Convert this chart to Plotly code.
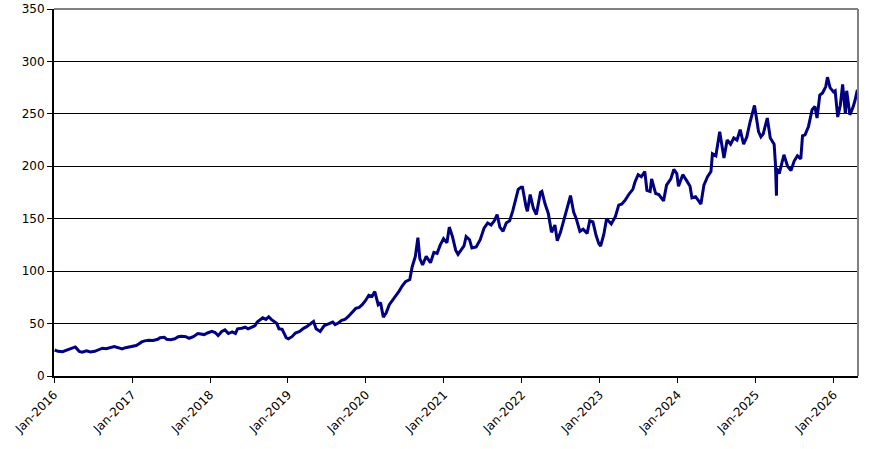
import plotly.graph_objects as go

# price readings, roughly two per month
dates = [
    # 2016
    "2016-01-04", "2016-01-20", "2016-02-10", "2016-03-01", "2016-03-20", "2016-04-10", "2016-04-28",
    "2016-05-12", "2016-06-01", "2016-06-20", "2016-07-10", "2016-07-28", "2016-08-15", "2016-09-01",
    "2016-09-20", "2016-10-10", "2016-10-28", "2016-11-15", "2016-12-01", "2016-12-20",
    # 2017
    "2017-01-05", "2017-01-20", "2017-02-01", "2017-02-15", "2017-03-01", "2017-03-20", "2017-04-10",
    "2017-05-01", "2017-05-12", "2017-06-01", "2017-06-12", "2017-07-01", "2017-07-20", "2017-08-05",
    "2017-08-20", "2017-09-10", "2017-09-25", "2017-10-15", "2017-11-05", "2017-11-20", "2017-12-05",
    "2017-12-20",
    # 2018
    "2018-01-10", "2018-01-25", "2018-02-08", "2018-02-25", "2018-03-12", "2018-03-28", "2018-04-15",
    "2018-04-30", "2018-05-10", "2018-05-30", "2018-06-15", "2018-06-28", "2018-07-15", "2018-07-31",
    "2018-08-10", "2018-08-25", "2018-09-05", "2018-09-20", "2018-10-03", "2018-10-15", "2018-10-30",
    "2018-11-10", "2018-11-20", "2018-12-05", "2018-12-24",
    # 2019
    "2019-01-03", "2019-01-20", "2019-02-05", "2019-02-25", "2019-03-15", "2019-03-30", "2019-04-15",
    "2019-05-01", "2019-05-13", "2019-06-01", "2019-06-20", "2019-07-10", "2019-07-30", "2019-08-10",
    "2019-08-25", "2019-09-10", "2019-09-25", "2019-10-10", "2019-10-30", "2019-11-15", "2019-12-01",
    "2019-12-15", "2019-12-31",
    # 2020
    "2020-01-15", "2020-01-31", "2020-02-12", "2020-02-28", "2020-03-10", "2020-03-23", "2020-04-05",
    "2020-04-20", "2020-05-05", "2020-05-20", "2020-06-05", "2020-06-20", "2020-07-05", "2020-07-25",
    "2020-08-05", "2020-08-20", "2020-09-01", "2020-09-10", "2020-09-23", "2020-10-10", "2020-10-30",
    "2020-11-15", "2020-11-30", "2020-12-15", "2020-12-30",
    # 2021
    "2021-01-15", "2021-01-26", "2021-02-10", "2021-02-25", "2021-03-08", "2021-03-20", "2021-04-05",
    "2021-04-15", "2021-05-01", "2021-05-12", "2021-06-01", "2021-06-20", "2021-07-08", "2021-07-25",
    "2021-08-10", "2021-08-25", "2021-09-07", "2021-09-20", "2021-10-05", "2021-10-20", "2021-11-05",
    "2021-11-20", "2021-12-05", "2021-12-15", "2021-12-28",
    # 2022
    "2022-01-04", "2022-01-20", "2022-01-27", "2022-02-09", "2022-02-24", "2022-03-10", "2022-03-29",
    "2022-04-05", "2022-04-20", "2022-05-05", "2022-05-20", "2022-06-05", "2022-06-16", "2022-07-01",
    "2022-07-20", "2022-08-05", "2022-08-17", "2022-09-01", "2022-09-13", "2022-09-30", "2022-10-15",
    "2022-11-03", "2022-11-15", "2022-11-30", "2022-12-15", "2022-12-28",
    # 2023
    "2023-01-05", "2023-01-20", "2023-02-02", "2023-02-24", "2023-03-15", "2023-03-31", "2023-04-15",
    "2023-05-01", "2023-05-20", "2023-06-05", "2023-06-15", "2023-06-30", "2023-07-15", "2023-07-31",
    "2023-08-10", "2023-08-25", "2023-09-01", "2023-09-20", "2023-10-05", "2023-10-27", "2023-11-10",
    "2023-11-30", "2023-12-14", "2023-12-28",
    # 2024
    "2024-01-05", "2024-01-25", "2024-02-10", "2024-02-28", "2024-03-08", "2024-03-25", "2024-04-05",
    "2024-04-19", "2024-05-03", "2024-05-20", "2024-06-05", "2024-06-12", "2024-06-28", "2024-07-16",
    "2024-08-05", "2024-08-20", "2024-09-05", "2024-09-20", "2024-10-05", "2024-10-20", "2024-11-05",
    "2024-11-20", "2024-12-05", "2024-12-26",
    # 2025
    "2025-01-08", "2025-01-14", "2025-01-25", "2025-02-05", "2025-02-24", "2025-03-10", "2025-03-28",
    "2025-04-03", "2025-04-08", "2025-04-09", "2025-04-21", "2025-05-05", "2025-05-13", "2025-05-30",
    "2025-06-15", "2025-06-30", "2025-07-15", "2025-07-31", "2025-08-08", "2025-08-20", "2025-09-05",
    "2025-09-22", "2025-10-05", "2025-10-15", "2025-10-28", "2025-11-10", "2025-11-25", "2025-12-03",
    "2025-12-15", "2025-12-31",
    # 2026
    "2026-01-08", "2026-01-20", "2026-02-01", "2026-02-12", "2026-02-25", "2026-03-03", "2026-03-18",
    "2026-04-01", "2026-04-10", "2026-04-22",
]

prices = [
    # 2016
    24.8, 23.5, 23.2, 24.5, 25.8, 27.7, 23.5, 22.8, 24.0, 23.0, 23.5, 25.0, 26.5, 26.0,
    27.0, 28.0, 27.0, 25.8, 27.0, 28.0,
    # 2017
    28.5, 29.0, 30.5, 32.5, 33.5, 34.0, 33.8, 35.0, 36.5, 37.0, 35.0, 34.5, 35.5, 37.5,
    38.0, 37.5, 36.0, 37.5, 40.5, 40.0, 39.5, 41.0,
    # 2018
    42.5, 41.5, 38.5, 42.5, 44.0, 40.5, 42.0, 40.5, 45.0, 45.5, 46.5, 45.0, 46.5, 48.0,
    51.5, 53.5, 55.5, 54.0, 56.5, 54.0, 51.5, 50.0, 45.0, 44.5, 36.5,
    # 2019
    35.5, 37.5, 41.0, 42.5, 45.5, 47.0, 49.5, 52.0, 45.0, 42.5, 48.0, 50.0, 51.5, 49.0,
    50.5, 53.0, 54.0, 56.5, 61.0, 64.5, 65.5, 68.0, 72.0,
    # 2020
    77.0, 76.0, 80.5, 68.0, 70.0, 56.0, 60.0, 68.0, 72.0, 76.0, 81.0, 86.0, 90.0, 92.0,
    104.0, 114.0, 132.0, 112.0, 106.0, 114.0, 108.0, 118.0, 117.0, 125.0, 131.0,
    # 2021
    127.0, 142.0, 133.0, 120.0, 116.0, 119.0, 124.0, 133.0, 130.0, 122.0, 123.0, 130.0, 141.0, 146.0,
    144.0, 148.0, 154.0, 142.0, 138.0, 146.0, 148.0, 158.0, 170.0, 178.0, 180.0,
    # 2022
    180.0, 162.0, 157.0, 173.0, 160.0, 154.0, 175.0, 176.0, 164.0, 155.0, 137.0, 144.0, 129.0, 137.0,
    150.0, 163.0, 172.0, 156.0, 150.0, 138.0, 140.0, 136.0, 148.0, 147.0, 134.0, 126.0,
    # 2023
    124.0, 135.0, 150.0, 145.0, 152.0, 163.0, 164.0, 168.0, 174.0, 178.0, 185.0, 192.0, 190.0, 195.0,
    177.0, 176.0, 188.0, 174.0, 173.0, 167.0, 182.0, 188.0, 197.0, 193.0,
    # 2024
    181.0, 192.0, 187.0, 181.0, 170.0, 171.0, 168.0, 164.0, 182.0, 190.0, 195.0, 212.0, 210.0, 233.0,
    208.0, 225.0, 221.0, 227.0, 225.0, 235.0, 221.0, 228.0, 242.0, 258.0,
    # 2025
    241.0, 233.0, 228.0, 231.0, 246.0, 227.0, 221.0, 203.0, 172.0, 198.0, 193.0, 205.0, 211.0, 200.0,
    196.0, 205.0, 210.0, 207.0, 229.0, 230.0, 238.0, 254.0, 257.0, 246.0, 268.0, 270.0, 276.0, 285.0,
    275.0, 271.0,
    # 2026
    272.0, 247.0, 258.0, 278.0, 250.0, 272.0, 249.0, 256.0, 262.0, 273.0,
]

year_ticks = ["%d-01-01" % y for y in range(2016, 2027)]

fig = go.Figure()
fig.add_trace(go.Scatter(x=dates, y=prices, mode="lines",
                         line=dict(color="#000080", width=3), showlegend=False))

fig.update_layout(
    width=883, height=449,
    margin=dict(l=54, r=25, t=9, b=73),
    paper_bgcolor="white", plot_bgcolor="white",
    font=dict(family="DejaVu Sans", size=12, color="black"),
)
fig.update_xaxes(
    range=["2016-01-01", "2026-04-25"], automargin=False,
    tickvals=year_ticks, tickformat="%b-%Y", tickangle=-45,
    showgrid=False, showline=True, linecolor="black", linewidth=2,
    ticks="outside", ticklen=5, tickcolor="black",
)
fig.update_yaxes(
    range=[0, 350], dtick=50, automargin=False,
    showgrid=True, gridcolor="black", gridwidth=1, zeroline=False,
    showline=True, linecolor="black", linewidth=2,
    ticks="outside", ticklen=5, tickcolor="black",
)
# grey frame on top and right like the original
fig.add_shape(type="line", xref="paper", yref="paper", x0=0, x1=1, y0=1, y1=1,
              line=dict(color="#808080", width=2))
fig.add_shape(type="line", xref="paper", yref="paper", x0=1, x1=1, y0=0, y1=1,
              line=dict(color="#808080", width=2))

# drop the default 8px body margin so the figure sits at the window corner
fig.write_html("out.html", config={"displayModeBar": False},
               post_script="document.body.style.margin='0';")
